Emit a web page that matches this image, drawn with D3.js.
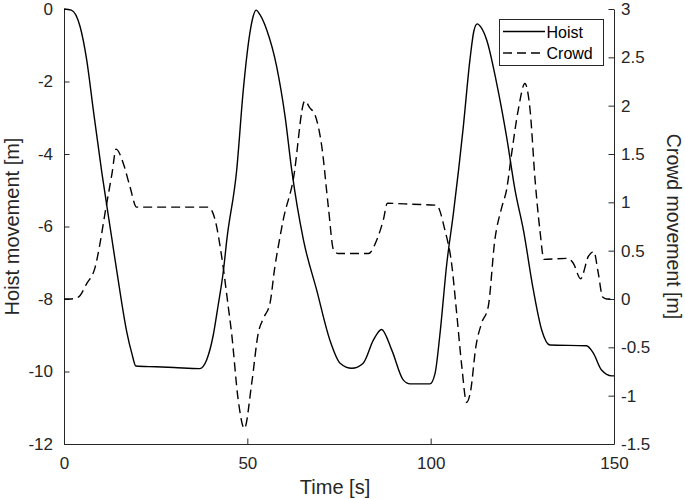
<!DOCTYPE html>
<html>
<head>
<meta charset="utf-8">
<script src="https://cdn.jsdelivr.net/npm/d3@7"></script>
<style>
  body { margin: 0; background: #fff; }
  svg { font-family: "Liberation Sans", Arial, sans-serif; }
</style>
</head>
<body>
<div id="vis"></div>
<script>
const WIDTH = 685;
const HEIGHT = 499;
const PLOT = {left: 64, right: 614, top: 9, bottom: 444};

// time axis and tick labels
const X_TICKS = [0, 50, 100, 150];
const LEFT_TICKS = [0, -2, -4, -6, -8, -10, -12];
const RIGHT_TICKS = [3, 2.5, 2, 1.5, 1, 0.5, 0, -0.5, -1, -1.5];

// hoist movement [m] (left axis)
const HOIST_T = [0, 2, 4.4, 6.2, 8, 10.3, 13, 15.5, 17.1, 18.5, 19.6, 25, 30, 37, 38.9, 40.7, 42, 43.5, 44.4, 47.1,
  48.9, 50.7, 51.6, 52.4, 53.4, 55.3, 58, 60.3, 62.1, 65.3, 68.9, 72.5, 75.3, 78.5, 81.6, 84.4, 86.6, 89.4, 92.5,
  94.4, 99.8, 101.2, 102.5, 104.4, 106.2, 108.9, 110.7, 111.8, 112.7, 113.7, 115.3, 118, 120.7, 123, 125.3, 128,
  130.3, 132.5, 142.5, 144.4, 146.6, 149.4, 150];
const HOIST_V = [0, -0.03, -0.49, -1.41, -2.79, -4.5, -6.3, -7.95, -8.9, -9.5, -9.85, -9.87, -9.89, -9.92, -9.68,
  -9.0, -8.2, -7.2, -6.37, -4.44, -2.23, -0.66, -0.2, -0.03, -0.15, -0.58, -1.59, -2.97, -4.44, -6.37, -7.75, -9.13,
  -9.77, -9.91, -9.77, -9.13, -8.84, -9.41, -10.23, -10.34, -10.34, -10.05, -9.0, -7.02, -5.64, -3.25, -1.41, -0.6,
  -0.41, -0.5, -0.86, -2.05, -3.52, -4.99, -6.10, -7.75, -8.86, -9.27, -9.29, -9.5, -9.96, -10.12, -10.12];

// crowd movement [m] (right axis)
const CROWD_T = [0, 1.5, 3.9, 6.2, 8.5, 9.8, 11.2, 13.1, 14.2, 16.2, 18, 19.8, 30, 39.4, 41.2, 43, 44.8, 45.7, 47.5,
  49.2, 51.2, 53, 54.4, 56.2, 57.5, 58.9, 59.8, 62.5, 65.7, 67, 68.5, 70.3, 72.1, 73.5, 74.8, 83, 85.3, 87.1, 88.2,
  95, 101.6, 103.9, 105.7, 107.1, 108.5, 109.8, 110.9, 112.3, 113.9, 115.7, 117.5, 119.4, 120.7, 122.1, 123.9,
  125.7, 127.1, 128.5, 129.8, 130.9, 137.1, 138.9, 140.9, 143, 144.5, 145.7, 146.9, 148, 150];
const CROWD_V = [0, 0, 0.02, 0.16, 0.33, 0.57, 0.89, 1.30, 1.55, 1.40, 1.16, 0.95, 0.95, 0.95, 0.82, 0.44, -0.08,
  -0.35, -1.04, -1.34, -0.87, -0.35, -0.2, -0.04, 0.33, 0.64, 0.82, 1.23, 2.05, 1.98, 1.9, 1.58, 0.95, 0.51, 0.47,
  0.47, 0.61, 0.82, 0.99, 0.98, 0.97, 0.71, 0.37, -0.15, -0.70, -1.07, -0.95, -0.5, -0.25, -0.08, 0.61, 0.95, 1.13,
  1.51, 1.96, 2.23, 1.96, 1.22, 0.71, 0.41, 0.42, 0.37, 0.21, 0.44, 0.49, 0.27, 0.02, 0, 0];

const SERIES = ["Hoist", "Crowd"];

const AXIS_COLOR = "#262626";
const DASH = "9,5";

const svg = d3.select("#vis")
  .append("svg")
    .attr("width", WIDTH)
    .attr("height", HEIGHT);

const X_SCALE = d3.scaleLinear().domain([0, 150]).range([PLOT.left, PLOT.right]);
const YL_SCALE = d3.scaleLinear().domain([-12, 0]).range([PLOT.bottom, PLOT.top]);
const YR_SCALE = d3.scaleLinear().domain([-1.5, 3]).range([PLOT.bottom, PLOT.top]);

function styleAxis(g) {
  g.select(".domain").attr("stroke", AXIS_COLOR).attr("stroke-width", 1);
  g.selectAll(".tick line").attr("stroke", AXIS_COLOR).attr("stroke-width", 1);
  g.selectAll(".tick text").attr("fill", AXIS_COLOR).attr("font-size", 17);
  g.attr("font-family", null);
}

// axes with inward ticks
svg.append("g")
  .attr("transform", `translate(0,${PLOT.bottom})`)
  .call(d3.axisBottom(X_SCALE).tickValues(X_TICKS).tickSizeInner(-5.5).tickSizeOuter(0).tickPadding(13))
  .call(styleAxis);

svg.append("g")
  .attr("transform", `translate(${PLOT.left},0)`)
  .call(d3.axisLeft(YL_SCALE).tickValues(LEFT_TICKS).tickSizeInner(-5.5).tickSizeOuter(0).tickPadding(11)
    .tickFormat(d3.format("d")))
  .call(styleAxis);

svg.append("g")
  .attr("transform", `translate(${PLOT.right},0)`)
  .call(d3.axisRight(YR_SCALE).tickValues(RIGHT_TICKS).tickSizeInner(-5.5).tickSizeOuter(0).tickPadding(7)
    .tickFormat(d => String(d)))
  .call(styleAxis);

// hyphen-minus like the reference
svg.selectAll(".tick text").text(function() { return this.textContent.replace("\u2212", "-"); });

// axis labels
svg.append("text")
  .attr("x", (PLOT.left + PLOT.right) / 2 - 4)
  .attr("y", 494)
  .attr("text-anchor", "middle")
  .attr("font-size", 20)
  .attr("fill", AXIS_COLOR)
  .text("Time [s]");

svg.append("text")
  .attr("transform", `translate(19,${(PLOT.top + PLOT.bottom) / 2}) rotate(-90)`)
  .attr("text-anchor", "middle")
  .attr("font-size", 20)
  .attr("fill", AXIS_COLOR)
  .text("Hoist movement [m]");

svg.append("text")
  .attr("transform", `translate(667,${(PLOT.top + PLOT.bottom) / 2}) rotate(90)`)
  .attr("text-anchor", "middle")
  .attr("font-size", 19.5)
  .attr("fill", AXIS_COLOR)
  .text("Crowd movement [m]");

// lines
const hoistData = HOIST_T.map((t, i) => ({t: t, v: HOIST_V[i]}));
const crowdData = CROWD_T.map((t, i) => ({t: t, v: CROWD_V[i]}));

const hoistLine = d3.line()
  .x(d => X_SCALE(d.t))
  .y(d => YL_SCALE(d.v))
  .curve(d3.curveMonotoneX);

const crowdLine = d3.line()
  .x(d => X_SCALE(d.t))
  .y(d => YR_SCALE(d.v))
  .curve(d3.curveMonotoneX);

svg.append("path")
  .datum(crowdData)
  .attr("d", crowdLine)
  .attr("fill", "none")
  .attr("stroke", "#000")
  .attr("stroke-width", 1.4)
  .attr("stroke-dasharray", DASH);

svg.append("path")
  .datum(hoistData)
  .attr("d", hoistLine)
  .attr("fill", "none")
  .attr("stroke", "#000")
  .attr("stroke-width", 1.4);

// legend
const legend = svg.append("g");
legend.append("rect")
  .attr("x", 499.5).attr("y", 19.5)
  .attr("width", 104).attr("height", 46)
  .attr("fill", "#fff")
  .attr("stroke", AXIS_COLOR)
  .attr("stroke-width", 1);

legend.selectAll(".item")
  .data(SERIES)
  .enter()
  .append("g")
    .attr("class", "item")
    .each(function(d, i) {
      const g = d3.select(this);
      const y = 31.5 + i * 21.5;
      g.append("line")
        .attr("x1", 503).attr("x2", 545)
        .attr("y1", y).attr("y2", y)
        .attr("stroke", "#000")
        .attr("stroke-width", 1.4)
        .attr("stroke-dasharray", i === 1 ? DASH : null);
      g.append("text")
        .attr("x", 546.5)
        .attr("y", y + 6)
        .attr("font-size", 16)
        .attr("fill", "#000")
        .text(d);
    });
</script>
</body>
</html>
